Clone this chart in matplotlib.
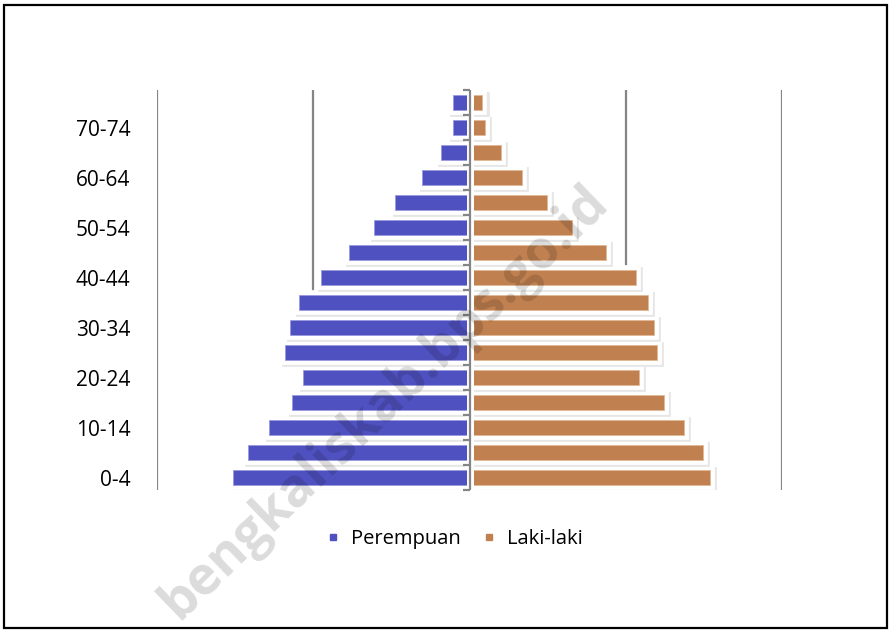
import numpy as np
import matplotlib.pyplot as plt
import matplotlib.patheffects as pe
from matplotlib.patches import Rectangle
from matplotlib.lines import Line2D

plt.rcParams['font.family'] = ['Open Sans', 'DejaVu Sans']

age_groups = ['0-4', '5-9', '10-14', '15-19', '20-24', '25-29', '30-34', '35-39',
              '40-44', '45-49', '50-54', '55-59', '60-64', '65-69', '70-74', '75+']
perempuan = [15130, 14170, 12820, 11350, 10640, 11800, 11470, 10900,
             9490, 7690, 6090, 4740, 3010, 1800, 1030, 1030]
laki_laki = [15390, 14940, 13720, 12440, 10830, 11990, 11800, 11410,
             10640, 8720, 6540, 4940, 3330, 1990, 960, 830]

blue = '#4f51c0'
brown = '#c0804f'
grid_col = '#858585'

fig = plt.figure(figsize=(8.9, 6.3), dpi=100)
ax = fig.add_axes([157/890, 1 - 490/630, 625/890, 400/630])

y = np.arange(len(age_groups))
fem = -np.array(perempuan)
mal = np.array(laki_laki)
h = 0.6

# white glow behind bars (hides the gridlines), with a soft shadow
glow = [pe.Stroke(linewidth=7, foreground='#e6e6e6', offset=(1.5, -1.5)),
        pe.Stroke(linewidth=7, foreground='white'), pe.Normal()]
for vals in (fem, mal):
    ax.barh(y, vals, height=h, color='white', edgecolor='white', linewidth=0,
            zorder=2, path_effects=glow)

ax.barh(y, fem, height=h, color=blue, edgecolor='#9a9be0', linewidth=0.6,
        zorder=3, label='Perempuan')
ax.barh(y, mal, height=h, color=brown, edgecolor='#e0b896', linewidth=0.6,
        zorder=3, label='Laki-laki')

ax.set_xlim(-20000, 20000)
ax.set_ylim(-0.5, len(age_groups) - 0.5)
ax.set_xticks([-20000, -10000, 0, 10000, 20000])
ax.xaxis.grid(True, color=grid_col, linewidth=1.6, zorder=1)
ax.set_axisbelow(True)
ax.tick_params(axis='x', length=0, labelbottom=False)
for s in ax.spines.values():
    s.set_visible(False)

ax.set_yticks(y[::2], age_groups[::2])
ax.tick_params(axis='y', length=0, pad=19, labelsize=15)

# central category axis, white gap around it, tick marks between groups
bounds = np.arange(len(age_groups) + 1) - 0.5
ax.axvline(0, color='white', linewidth=5, zorder=4)
ax.axvline(0, color=grid_col, linewidth=1.6, zorder=5)
ax.hlines(bounds, -400, 0, color=grid_col, linewidth=1.6, zorder=5, clip_on=False)

handles = [Line2D([], [], marker='s', linestyle='none', markersize=4,
                  color=blue, label='Perempuan'),
           Line2D([], [], marker='s', linestyle='none', markersize=4,
                  color=brown, label='Laki-laki')]
fig.legend(handles=handles, loc='center', bbox_to_anchor=(455/890, 1 - 539/630),
           ncol=2, frameon=False, fontsize=14.5, handlelength=0.6,
           handletextpad=0.6, columnspacing=1.1)

fig.text(385/890, 1 - 402/630, 'bengkaliskab.bps.go.id', rotation=44,
         ha='center', va='center', fontsize=38, fontweight='bold',
         color='black', alpha=0.14, zorder=10)

fig.add_artist(Rectangle((4/890, 2/630), 883/890, 623/630, transform=fig.transFigure,
                         fill=False, edgecolor='black', linewidth=1.6))

fig.savefig('out.png', dpi=100)
